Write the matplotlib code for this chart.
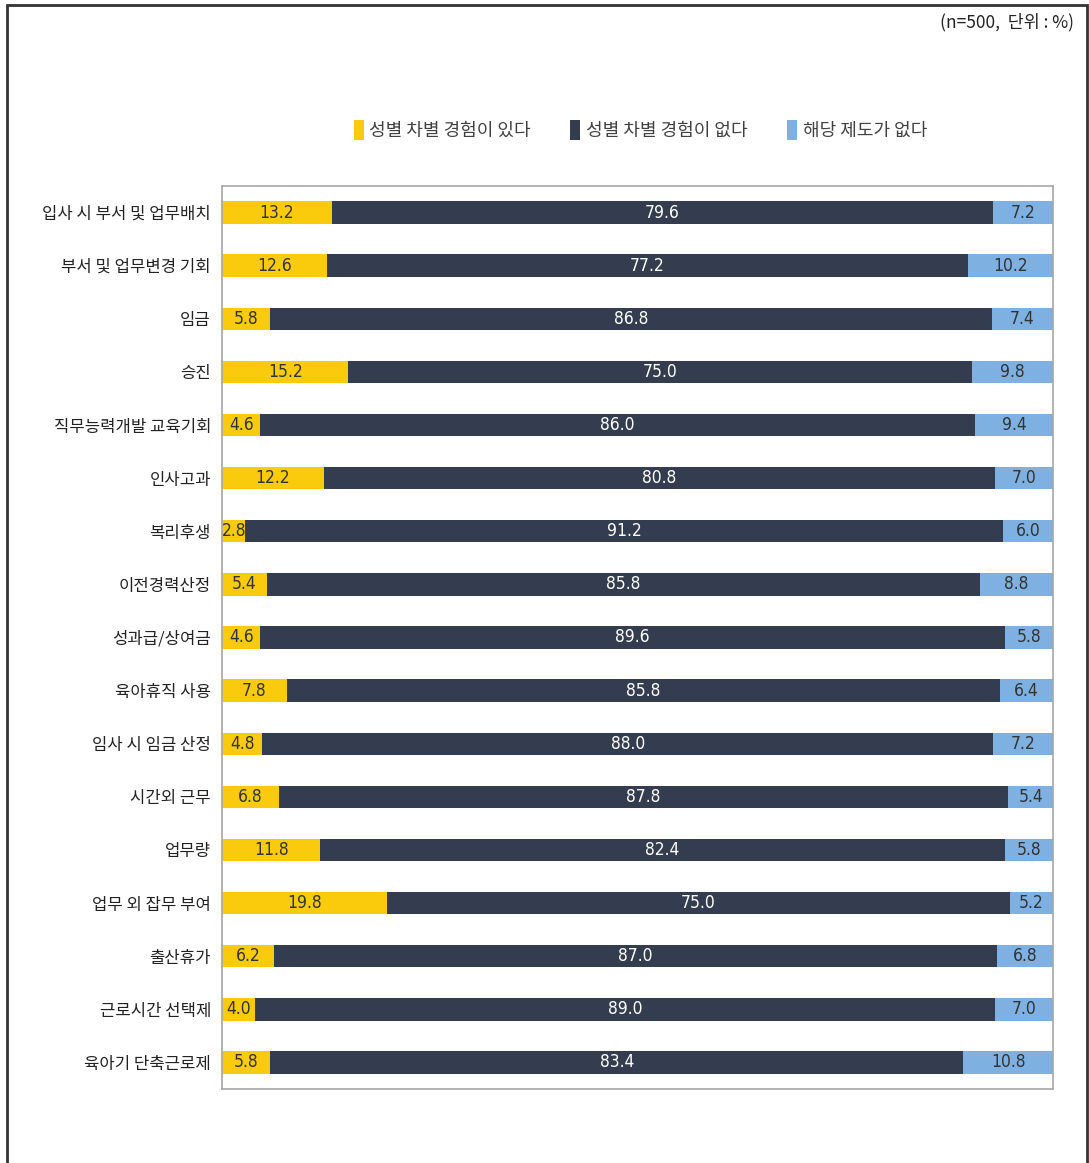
import matplotlib.pyplot as plt
import matplotlib.patches as mpatches
import numpy as np

plt.rcParams['font.family'] = ['Noto Sans CJK KR', 'DejaVu Sans']

categories = ['입사 시 부서 및 업무배치', '부서 및 업무변경 기회', '임금', '승진',
              '직무능력개발 교육기회', '인사고과', '복리후생', '이전경력산정',
              '성과급/상여금', '육아휴직 사용', '임사 시 임금 산정', '시간외 근무',
              '업무량', '업무 외 잡무 부여', '출산휴가', '근로시간 선택제', '육아기 단축근로제']
experienced = [13.2, 12.6, 5.8, 15.2, 4.6, 12.2, 2.8, 5.4, 4.6, 7.8, 4.8, 6.8, 11.8, 19.8, 6.2, 4.0, 5.8]
not_experienced = [79.6, 77.2, 86.8, 75.0, 86.0, 80.8, 91.2, 85.8, 89.6, 85.8, 88.0, 87.8, 82.4, 75.0, 87.0, 89.0, 83.4]
no_system = [7.2, 10.2, 7.4, 9.8, 9.4, 7.0, 6.0, 8.8, 5.8, 6.4, 7.2, 5.4, 5.8, 5.2, 6.8, 7.0, 10.8]
series_names = ['성별 차별 경험이 있다', '성별 차별 경험이 없다', '해당 제도가 없다']
colors = ['#F9CB0C', '#333D4F', '#7EB1E1']
text_colors = ['#333333', 'white', '#333333']

fig = plt.figure(figsize=(10.89, 11.63), dpi=100)
ax = fig.add_axes([0.204, 0.0636, 0.763, 0.7765])

y = np.arange(len(categories))
left = np.zeros(len(categories))
for vals, name, c, tc in zip([experienced, not_experienced, no_system], series_names, colors, text_colors):
    vals = np.array(vals)
    bars = ax.barh(y, vals, left=left, height=0.42, color=c, label=name)
    for yi, l, v in zip(y, left, vals):
        ax.text(l + v / 2, yi, f'{v:.1f}', ha='center', va='center', fontsize=12.5,
                color=tc, fontstretch='condensed', family=['DejaVu Sans'])
    left += vals

ax.set_xlim(0, 100)
ax.set_ylim(len(categories) - 0.5, -0.5)
ax.set_yticks(y)
ax.set_yticklabels(categories, fontsize=12, color='#222222')
ax.set_xticks([])
ax.tick_params(axis='y', length=0, pad=8)
for s in ax.spines.values():
    s.set_color('#A6A6A6')
    s.set_linewidth(1.2)

leg = fig.legend(loc='center', bbox_to_anchor=(0.588, 0.888), ncol=3, frameon=False,
                 fontsize=13, handlelength=0.55, handleheight=1.3, handletextpad=0.3,
                 columnspacing=2.2)
for t in leg.get_texts():
    t.set_color('#404040')

fig.text(0.986, 0.981, '(n=500,  단위 : %)', ha='right', va='center', fontsize=12.5, color='#222222')

# outer frame around the whole figure
fig.patches.append(mpatches.Rectangle((0.0065, -0.01), 0.9915, 1.006, transform=fig.transFigure,
                                      fill=False, edgecolor='#333333', linewidth=2))

fig.savefig('out.png', dpi=100)
